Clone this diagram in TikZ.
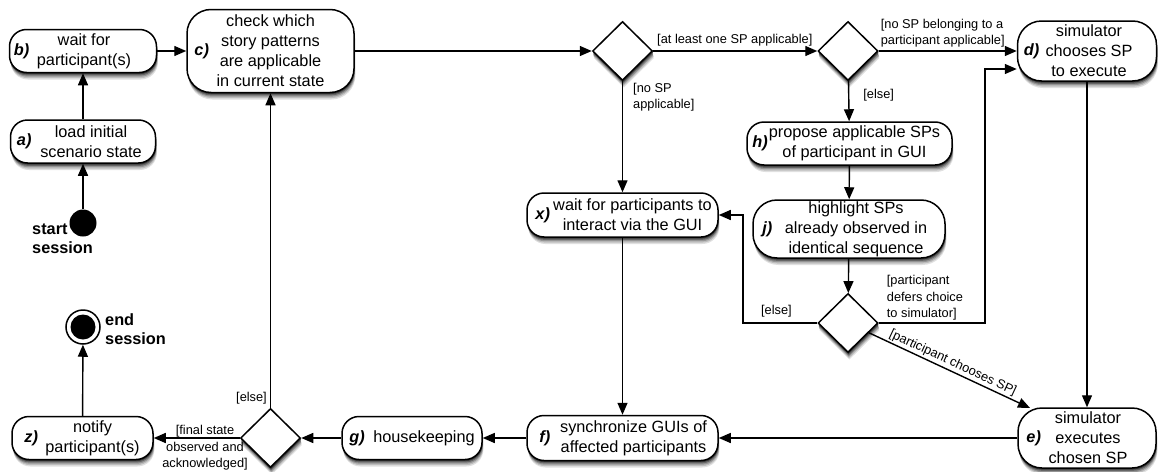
\documentclass[tikz,border=0pt]{standalone}
\usepackage{fontspec}
\setmainfont{Liberation Sans}
\usetikzlibrary{arrows.meta,shapes.geometric}

\tikzset{
  act/.style={draw, line width=1.5pt, rounded corners=17pt, fill=white, inner sep=0pt},
  tallact/.style={act, rounded corners=24pt},
  txt/.style={font=\fontsize{16.3}{20}\selectfont, align=center, inner sep=0pt},
  tag/.style={font=\fontsize{16.3}{20}\selectfont\bfseries\itshape, inner sep=0pt, anchor=west},
  dec/.style={diamond, draw, line width=1.5pt, fill=white, minimum width=60pt, minimum height=59pt, inner sep=0pt},
  flow/.style={line width=1.4pt, -{Triangle[length=12pt,width=10pt]}},
  guard/.style={font=\fontsize{12.8}{16.5}\selectfont, inner sep=0pt},
  endlabel/.style={font=\fontsize{16.3}{19}\selectfont\bfseries, align=left, inner sep=0pt},
}

% soft shadow under a rounded box: centre x, centre y, width, height, corner radius
\newcommand\castshadow[5]{%
  \foreach \dx/\dy/\tone in {1.4/7/12, 1.1/5.6/26, 0.9/4.2/42, 0.6/2.9/60, 0.4/1.6/78}{
    \fill[black!\tone, rounded corners=#5pt]
      (#1-#3/2+\dx, #2-#4/2+\dy) rectangle (#1+#3/2+\dx, #2+#4/2+\dy);
  }}
% soft shadow under a decision diamond: centre x, centre y
\newcommand\castdiamondshadow[2]{%
  \foreach \dx/\dy/\tone in {1.4/7/12, 1.1/5.6/26, 0.9/4.2/42, 0.6/2.9/60, 0.4/1.6/78}{
    \fill[black!\tone]
      (#1+\dx, #2-29.5+\dy) -- (#1+30+\dx, #2+\dy) -- (#1+\dx, #2+29.5+\dy) -- (#1-30+\dx, #2+\dy) -- cycle;
  }}

\begin{document}
\begin{tikzpicture}[x=1pt,y=-1pt]
\useasboundingbox (0,0) rectangle (1158,471);

% shadows first, so that the shapes cover them
\castshadow{83}{141.5}{145}{43}{17}
\castshadow{83}{51}{147}{43}{17}
\castshadow{270.5}{51}{167}{83}{24}
\castshadow{1087}{51}{139}{60}{24}
\castshadow{1087}{438}{138}{60}{24}
\castshadow{849.5}{143.5}{205}{43}{17}
\castshadow{849}{229}{192}{58}{24}
\castshadow{622.5}{215}{191}{44}{17}
\castshadow{622.5}{438}{191}{45}{17}
\castshadow{412}{438}{140}{43}{17}
\castshadow{82.5}{438}{141}{43}{17}
\castdiamondshadow{270.5}{438}
\castdiamondshadow{622.5}{51}
\castdiamondshadow{848}{51}
\castdiamondshadow{848}{323}

% initial and final states
\node[circle, fill=black, minimum size=27pt, inner sep=0pt] (start) at (83,223) {};
\node[endlabel, anchor=north west] (startlbl) at (32,224) {start\\session};
\node[circle, draw, line width=1.5pt, fill=white, minimum size=34pt, inner sep=0pt] (end) at (83,327) {};
\fill (end.center) circle (12.5pt);
\node[endlabel, anchor=north west] (endlbl) at (105,313) {end\\session};

% actions
\node[act, minimum width=145pt, minimum height=43pt] (a) at (83,141.5) {};
\node[txt] at ([xshift=8pt]a.center) {load initial\\scenario state};
\node[tag] at ([xshift=7pt]a.west) {a)};

\node[act, minimum width=147pt, minimum height=43pt] (b) at (83,51) {};
\node[txt] at ([xshift=1pt]b.center) {wait for\\participant(s)};
\node[tag] at ([xshift=5pt]b.west) {b)};

\node[tallact, minimum width=167pt, minimum height=83pt] (c) at (270.5,51) {};
\node[txt] at (c.center) {check which\\story patterns\\are applicable\\in current state};
\node[tag] at ([xshift=8pt]c.west) {c)};

\node[tallact, minimum width=139pt, minimum height=60pt] (d) at (1087,51) {};
\node[txt] at ([xshift=2pt]d.center) {simulator\\chooses SP\\to execute};
\node[tag] at ([xshift=7pt]d.west) {d)};

\node[tallact, minimum width=138pt, minimum height=60pt] (e) at (1087,438) {};
\node[txt] at ([xshift=1pt]e.center) {simulator\\executes\\chosen SP};
\node[tag] at ([xshift=9pt]e.west) {e)};

\node[act, minimum width=205pt, minimum height=43pt] (h) at (849.5,143.5) {};
\node[txt] at ([xshift=5pt]h.center) {propose applicable SPs\\of participant in GUI};
\node[tag] at ([xshift=6pt]h.west) {h)};

\node[tallact, minimum width=192pt, minimum height=58pt] (j) at (849,229) {};
\node[txt] at ([xshift=7pt]j.center) {highlight SPs\\already observed in\\identical sequence};
\node[tag] at ([xshift=10pt]j.west) {j)};

\node[act, minimum width=191pt, minimum height=44pt] (x) at (622.5,215) {};
\node[txt] at ([xshift=10pt]x.center) {wait for participants to\\interact via the GUI};
\node[tag] at ([xshift=9pt]x.west) {x)};

\node[act, minimum width=191pt, minimum height=45pt] (f) at (622.5,438) {};
\node[txt] at ([xshift=11pt]f.center) {synchronize GUIs of\\affected participants};
\node[tag] at ([xshift=13pt]f.west) {f)};

\node[act, minimum width=140pt, minimum height=43pt] (g) at (412,438) {};
\node[txt] at ([xshift=12pt]g.center) {housekeeping};
\node[tag] at ([xshift=8pt]g.west) {g)};

\node[act, minimum width=141pt, minimum height=43pt] (z) at (82.5,438) {};
\node[txt] at ([xshift=10pt]z.center) {notify\\participant(s)};
\node[tag] at ([xshift=13pt]z.west) {z)};

% decisions
\node[dec] (d1) at (270.5,438) {};
\node[dec] (d2) at (622.5,51) {};
\node[dec] (d3) at (848,51) {};
\node[dec] (d4) at (848,323) {};

\coordinate (d4turnW) at (743,323);
\coordinate (d4turnE) at (985,323);
\coordinate (dentry) at (985,69);
\coordinate (eentry) at (1030,408);

% guard of the final decision, set below its outgoing flow
\node[guard, align=center] (finalguard) at (205,448) {[final state\\observed and\\acknowledged]};

% control flow
\draw[flow] (start) -- (a.south -| start);
\draw[flow] (a.north) -- (a.north |- b.south);
\draw[flow] (b) -- (c);
\draw[flow] (c) -- (d2);
\draw[flow] (d2) -- node[guard, pos=0.02, anchor=south west, yshift=4pt] {[at least one SP applicable]} (d3);
\draw[flow] (d3) -- node[guard, pos=0.01, anchor=south west, yshift=3pt, align=left] {[no SP belonging to a\\participant applicable]} (d);
\draw[flow] (d3) -- node[guard, pos=0.35, anchor=west, xshift=14pt] {[else]} (h);
\draw[flow] (d2) -- node[guard, pos=0, anchor=north west, xshift=10pt, yshift=-1pt, align=left] {[no SP\\applicable]} (x);
\draw[flow] (h) -- (j);
\draw[flow] (j) -- (d4);
\draw[flow] (d4.west) -- node[guard, pos=0.55, anchor=south, yshift=5pt] {[else]} (d4turnW) |- (x.east);
\draw[flow] (d4.east) -- node[guard, pos=0.07, anchor=south west, yshift=2pt, align=left] {[participant\\defers choice\\to simulator]} (d4turnE) |- (dentry -| d.west);
\draw[flow] (d4) -- node[guard, midway, above=1.5pt, sloped] {[participant chooses SP]} (eentry);
\draw[flow] (d) -- (e);
\draw[flow] (e) -- (f);
\draw[flow] (x) -- (f);
\draw[flow] (f) -- (g);
\draw[flow] (g) -- (d1);
\draw[flow] (d1) -- (z);
\draw[flow] (d1) -- node[guard, pos=0.03, anchor=east, xshift=-3pt] {[else]} (c);
\draw[flow] (z) -- (end);
\end{tikzpicture}
\end{document}
